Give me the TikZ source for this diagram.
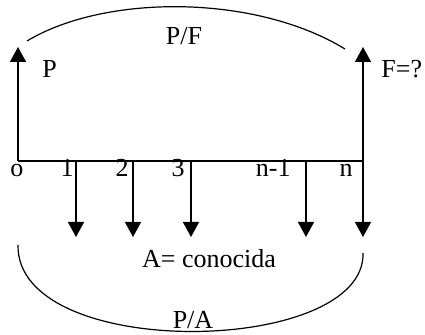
\documentclass[tikz,border=0pt]{standalone}
\usepackage{fontspec}
\setmainfont{Liberation Serif}
\usetikzlibrary{arrows.meta}

\begin{document}
\begin{tikzpicture}[x=0.5pt,y=-0.5pt,
    every node/.style={font=\fontsize{13}{15}\selectfont,inner sep=0pt},
    cash/.style={-{Triangle[length=7.5pt,width=8pt]},line width=0.75pt},
    factor/.style={line width=0.6pt}]
  \useasboundingbox (0,0) rectangle (425,335);
  %% Time line
  \coordinate (t0) at (18,161);
  \coordinate (tn) at (363,161);
  \draw[line width=0.75pt] (t0) -- (tn);
  \node[anchor=base] (lab0) at (17,177) {o};
  %% Present and future values
  \coordinate (up0) at (18,47);
  \coordinate (upn) at (363,47);
  \draw[cash] (t0) -- (up0);
  \draw[cash] (tn) -- (upn);
  \node[anchor=base west] (pv) at (42,78) {P};
  \node[anchor=base west] (fv) at (381,78) {F=?};
  %% Annuity payments
  \foreach \x/\lx/\t/\n in {
      76/74/1/1,
      133/129/2/2,
      191/185/3/3,
      306/291/n-1/m,
      363/353/n/n}{
    \coordinate (t\n) at (\x,161);
    \coordinate (a\n) at (\x,237);
    \draw[cash] (t\n) -- (a\n);
    \node[anchor=base east] (lab\n) at (\lx,177) {\t};
  }
  \node[anchor=base] (ann) at (209,268) {A= conocida};
  %% Factors
  \coordinate (pf0) at (27,41);
  \coordinate (pf1) at (345,49);
  \draw[factor] (pf0) .. controls (105,-6) and (255,-6) .. (pf1);
  \node[anchor=base] (pf) at (184,45) {P/F};
  \coordinate (pa0) at (18,245);
  \coordinate (pa1) at (363,253);
  \draw[factor] (pa0) .. controls (16,362) and (366,356) .. (pa1);
  \node[anchor=base] (pa) at (193,329) {P/A};
\end{tikzpicture}
\end{document}
